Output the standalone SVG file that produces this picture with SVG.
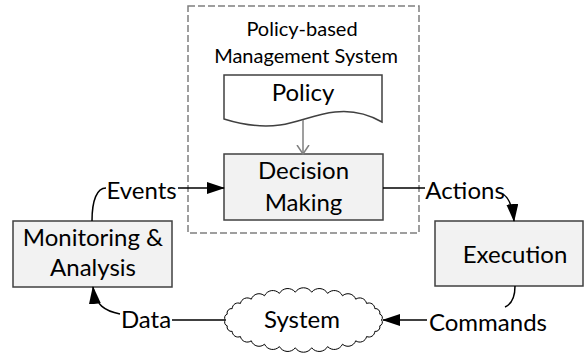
<svg xmlns="http://www.w3.org/2000/svg" width="584" height="356" viewBox="0 0 584 356">
<style>
  text { font-family: Lato, "Liberation Sans", sans-serif; fill: #000; text-anchor: middle; }
  .lbl { font-size: 24px; }
  .ttl { font-size: 20px; }
  .box { fill: #f2f2f2; stroke: #404040; stroke-width: 1.5; }
  .con { fill: none; stroke: #000; stroke-width: 1.5; }
</style>
<defs>
  <marker id="arr" viewBox="0 0 18 12" refX="17" refY="6" markerWidth="18" markerHeight="12" markerUnits="userSpaceOnUse" orient="auto">
    <path d="M0,0 L18,6 L0,12 z" fill="#000"/>
  </marker>
  <marker id="open" viewBox="0 0 10 14" refX="9" refY="7" markerWidth="10" markerHeight="14" markerUnits="userSpaceOnUse" orient="auto">
    <path d="M0,1 L9,7 L0,13" fill="none" stroke="#7f7f7f" stroke-width="1.5"/>
  </marker>
</defs>

<g id="pbms">
  <rect x="188" y="6" width="231" height="227" fill="none" stroke="#7f7f7f" stroke-width="1.5" stroke-dasharray="7,3"/>
  <text class="ttl" x="302" y="36">Policy-based</text>
  <text class="ttl" x="306" y="63">Management System</text>
</g>

<g id="policy">
  <path d="M224,75 L382,75 L382,122 C368,114 352,110 335,112 C315,114 300,122 280,125 C258,128 240,124 224,119 Z" fill="#fff" stroke="#404040" stroke-width="1.5"/>
  <text class="lbl" x="303" y="101">Policy</text>
</g>

<g id="decision">
  <rect class="box" x="224" y="154" width="159" height="66"/>
  <text class="lbl" x="303.5" y="179">Decision</text>
  <text class="lbl" x="303.5" y="211">Making</text>
</g>

<g id="monitoring">
  <rect class="box" x="13" y="221" width="159" height="66"/>
  <text class="lbl" x="93" y="246">Monitoring &amp;</text>
  <text class="lbl" x="93" y="276">Analysis</text>
</g>

<g id="execution">
  <rect class="box" x="435" y="221" width="148" height="65"/>
  <text class="lbl" x="515" y="263">Execution</text>
</g>

<g id="system">
  <path d="M381.5,320 A3.6 3.6 0 0 1 379.8,325.8 A4.5 4.5 0 0 1 374.8,331.4 A5.8 5.8 0 0 1 366.6,336.5 A7 7 0 0 1 355.7,340.8 A8.2 8.2 0 0 1 342.5,344.2 A9.1 9.1 0 0 1 327.6,346.6 A9.6 9.6 0 0 1 311.7,347.8 A9.8 9.8 0 0 1 295.3,347.8 A9.6 9.6 0 0 1 279.4,346.6 A9.1 9.1 0 0 1 264.5,344.2 A8.2 8.2 0 0 1 251.3,340.8 A7 7 0 0 1 240.4,336.5 A5.8 5.8 0 0 1 232.2,331.4 A4.5 4.5 0 0 1 227.2,325.8 A3.6 3.6 0 0 1 225.5,320 A3.6 3.6 0 0 1 227.2,314.2 A4.5 4.5 0 0 1 232.2,308.6 A5.8 5.8 0 0 1 240.4,303.5 A7 7 0 0 1 251.3,299.2 A8.2 8.2 0 0 1 264.5,295.8 A9.1 9.1 0 0 1 279.4,293.4 A9.6 9.6 0 0 1 295.3,292.2 A9.8 9.8 0 0 1 311.7,292.2 A9.6 9.6 0 0 1 327.6,293.4 A9.1 9.1 0 0 1 342.5,295.8 A8.2 8.2 0 0 1 355.7,299.2 A7 7 0 0 1 366.6,303.5 A5.8 5.8 0 0 1 374.8,308.6 A4.5 4.5 0 0 1 379.8,314.2 A3.6 3.6 0 0 1 381.5,320 Z" fill="#fff" stroke="#000" stroke-width="1"/>
  <text class="lbl" x="302" y="328">System</text>
</g>

<g id="connectors">
  <path d="M303,120 L303,154" fill="none" stroke="#7f7f7f" stroke-width="1.5" marker-end="url(#open)"/>
  <path class="con" d="M92,221 C92,200 97,188 106,188"/>
  <path class="con" d="M178,188 L224,188" marker-end="url(#arr)"/>
  <path class="con" d="M383,188 L425,188"/>
  <path class="con" d="M503,194 Q512,200 514,221" marker-end="url(#arr)"/>
  <path class="con" d="M515,286 C515,298 512,304 505,307"/>
  <path class="con" d="M427,320 L383,320" marker-end="url(#arr)"/>
  <path class="con" d="M225,320 L172,320"/>
  <path class="con" d="M120,314 C105,311 95,305 93,287" marker-end="url(#arr)"/>
  <text class="lbl" x="141.5" y="199">Events</text>
  <text class="lbl" x="465" y="199">Actions</text>
  <text class="lbl" x="488" y="331">Commands</text>
  <text class="lbl" x="146" y="328">Data</text>
</g>
</svg>
